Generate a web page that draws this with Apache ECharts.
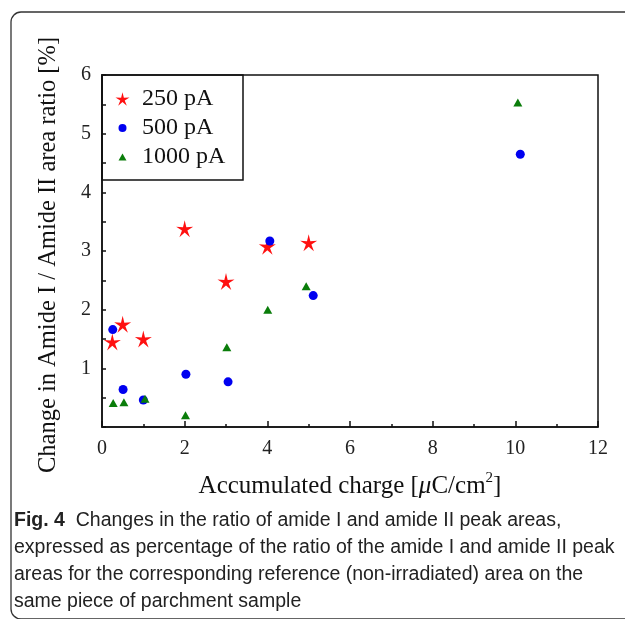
<!DOCTYPE html>
<html><head><meta charset="utf-8">
<script src="https://cdn.jsdelivr.net/npm/echarts@6/dist/echarts.min.js"></script>
<style>html,body{margin:0;padding:0;background:#fff}#c{width:625px;height:619px}</style>
</head><body><div id="c"></div>
<script>
const xTicks = [0, 2, 4, 6, 8, 10, 12];
const yTicks = [0, 1, 2, 3, 4, 5, 6];
const seriesNames = ['250 pA', '500 pA', '1000 pA'];
const x250 = [0.25, 0.5, 1, 2, 3, 4, 5];
const y250 = [1.45, 1.75, 1.50, 3.38, 2.48, 3.08, 3.14];
const x500 = [0.26, 0.51, 1.0, 2.03, 3.05, 4.06, 5.11, 10.12];
const y500 = [1.66, 0.64, 0.46, 0.90, 0.77, 3.17, 2.24, 4.65];
const x1000 = [0.27, 0.53, 1.04, 2.02, 3.02, 4.01, 4.94, 10.06];
const y1000 = [0.41, 0.42, 0.48, 0.20, 1.36, 2.00, 2.40, 5.53];
const xName = 'Accumulated charge [{i|\u03bc}C/cm{sup|2}]';
const yName = 'Change in Amide I / Amide II area ratio [%]';
const captionLines = [
  '{b|Fig. 4}  Changes in the ratio of amide I and amide II peak areas,',
  'expressed as percentage of the ratio of the amide I and amide II peak',
  'areas for the corresponding reference (non-irradiated) area on the',
  'same piece of parchment sample'
];

const STAR = 'path://M50 0 L59.4 37.06 L97.55 34.55 L65.22 54.94 L79.39 90.45 L50 66 L20.61 90.45 L34.78 54.94 L2.45 34.55 L40.6 37.06 Z';
const RED = '#ff1010', BLUE = '#0000f0', GREEN = '#0a7d0a';
const SERIF = 'Liberation Serif';
const SANS = 'Liberation Sans';
const XMIN = xTicks[0], XMAX = xTicks[xTicks.length - 1];
const YMIN = yTicks[0], YMAX = yTicks[yTicks.length - 1];

function zip(xs, ys) { return xs.map((x, i) => [x, ys[i]]); }

const chart = echarts.init(document.getElementById('c'), null, {renderer: 'canvas'});

function mkLegend(name, icon, color, w, h, centerY) {
  const cx = 122.5, textX = 142;
  return {
    data: [{name: name, icon: icon, itemStyle: {color: color}}],
    left: cx - w / 2, top: centerY - 12, padding: 0,
    itemWidth: w, itemHeight: h, itemGap: 0,
    textStyle: {fontFamily: SERIF, fontSize: 24, color: '#111', padding: [0, 0, 0, textX - (cx + w / 2 + 5)]},
    selectedMode: false
  };
}

const option = {
  backgroundColor: '#fff',
  animation: false,
  grid: {left: 102, right: 27, top: 75, bottom: 192, show: true, borderColor: '#111', borderWidth: 1.5, backgroundColor: 'transparent'},
  legend: [
    mkLegend(seriesNames[0], STAR, RED, 14, 14, 99),
    mkLegend(seriesNames[1], 'circle', BLUE, 8, 8, 128),
    mkLegend(seriesNames[2], 'triangle', GREEN, 8, 7, 157)
  ],
  xAxis: [{
    type: 'value', min: XMIN, max: XMAX, interval: 2,
    name: xName, nameLocation: 'middle', nameGap: 44,
    nameTextStyle: {fontFamily: SERIF, fontSize: 25, color: '#111', lineHeight: 30,
      rich: {i: {fontFamily: SERIF, fontSize: 25, fontStyle: 'italic', color: '#111'},
             sup: {fontFamily: SERIF, fontSize: 15, color: '#111', verticalAlign: 'top', lineHeight: 30}}},
    axisLine: {show: true, lineStyle: {color: '#111', width: 1.5}},
    axisTick: {show: true, inside: true, length: 6, lineStyle: {color: '#111', width: 1.5}},
    axisLabel: {fontFamily: SERIF, fontSize: 20, color: '#222', margin: 12},
    splitLine: {show: false}
  }, {
    type: 'value', min: XMIN, max: XMAX, interval: 1, position: 'bottom',
    axisLine: {show: false},
    axisTick: {show: true, inside: true, length: 3, lineStyle: {color: '#111', width: 1.5}},
    axisLabel: {show: false},
    splitLine: {show: false}
  }],
  yAxis: {
    type: 'value', min: YMIN, max: YMAX, interval: 0.5,
    name: yName, nameLocation: 'middle', nameGap: 41, nameRotate: 90,
    nameTextStyle: {fontFamily: SERIF, fontSize: 24.5, color: '#111', padding: [0, 8, 0, 0]},
    axisLine: {show: true, lineStyle: {color: '#111', width: 1.5}},
    axisTick: {show: true, inside: true, length: 4, lineStyle: {color: '#111', width: 1.5}},
    axisLabel: {fontFamily: SERIF, fontSize: 20, color: '#222', margin: 11,
      formatter: v => (v > 0 && Number.isInteger(v)) ? String(v) : ''},
    splitLine: {show: false}
  },
  series: [
    {name: seriesNames[0], type: 'scatter', symbol: STAR, symbolSize: 17, data: zip(x250, y250), itemStyle: {color: RED, opacity: 1}},
    {name: seriesNames[1], type: 'scatter', symbol: 'circle', symbolSize: 9, data: zip(x500, y500), itemStyle: {color: BLUE, opacity: 1}},
    {name: seriesNames[2], type: 'scatter', symbol: 'triangle', symbolSize: [9, 8], data: zip(x1000, y1000), itemStyle: {color: GREEN, opacity: 1}}
  ],
  graphic: [
    {type: 'rect', shape: {x: 11, y: 12, width: 700, height: 607, r: 10}, style: {fill: 'none', stroke: '#333', lineWidth: 1.3}, silent: true},
    {type: 'rect', shape: {x: 102, y: 75, width: 141, height: 105}, style: {fill: 'none', stroke: '#111', lineWidth: 1.5}, silent: true, z: 10},
    {type: 'text', left: 14, top: 507, silent: true,
      style: {text: captionLines.join('\n'), fontFamily: SANS, fontSize: 19.5, lineHeight: 27, fill: '#222',
        rich: {b: {fontFamily: SANS, fontWeight: 'bold', fontSize: 19.5, fill: '#222', lineHeight: 27}}}}
  ]
};
chart.setOption(option);
</script></body></html>
